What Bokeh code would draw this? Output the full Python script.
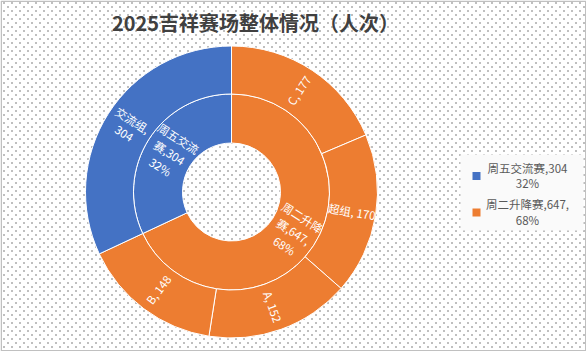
import math
import numpy as np
from bokeh.plotting import figure
from bokeh.models import Range1d, ColumnDataSource
from bokeh.core.properties import value
from bokeh.embed import file_html
from bokeh.resources import INLINE

# ---------------- data ----------------
title_text = "2025吉祥赛场整体情况（人次）"

inner_names = ["周二升降赛", "周五交流赛"]
inner_values = [647, 304]
inner_colors = ["#ED7D31", "#4472C4"]
inner_labels = ["周二升降\n赛,647,\n68%", "周五交流\n赛,304\n32%"]

outer_names = ["C", "超组", "A", "B", "交流组"]
outer_values = [177, 170, 152, 148, 304]
outer_colors = ["#ED7D31", "#ED7D31", "#ED7D31", "#ED7D31", "#4472C4"]
outer_labels = ["C, 177", "超组, 170", "A, 152", "B, 148", "交流组,\n304"]

legend_names = ["周五交流赛,304\n32%", "周二升降赛,647,\n68%"]
legend_colors = ["#4472C4", "#ED7D31"]

# ---------------- layout ----------------
W, H = 586, 351
CX, CY = 231, H - 191.5
R0, R1, R2 = 49, 98, 146
FONT = value("Noto Sans CJK SC")


def ring(values, r_in, r_out):
    total = float(sum(values))
    starts, ends, lx, ly, rot = [], [], [], [], []
    cum = 0.0
    rm = (r_in + r_out) / 2.0
    for v in values:
        a0 = 90.0 - cum / total * 360.0
        cum += v
        a1 = 90.0 - cum / total * 360.0
        starts.append(a0)
        ends.append(a1)
        mid = (a0 + a1) / 2.0
        lx.append(CX + rm * math.cos(math.radians(mid)))
        ly.append(CY + rm * math.sin(math.radians(mid)))
        m = ((mid + 180) % 360) - 180
        if m > 90:
            m -= 180
        elif m < -90:
            m += 180
        rot.append(m)
    return starts, ends, lx, ly, rot


p = figure(width=W, height=H, output_backend="svg", toolbar_location=None,
           x_range=Range1d(0, W), y_range=Range1d(0, H),
           min_border=0, x_axis_type=None, y_axis_type=None)
p.grid.visible = False
p.outline_line_color = None
p.background_fill_color = "white"
p.border_fill_color = "white"

# dotted background texture (decorative, one image)
img = np.full((H, W), 0xFFFFFFFF, dtype=np.uint32)
yy, xx = np.mgrid[0:H, 0:W]
ytop = H - 1 - yy
mask = ((xx % 8 == 3) & (ytop % 8 == 2)) | ((xx % 8 == 7) & (ytop % 8 == 6))
img[mask] = 0xFF000000
p.image_rgba(image=[img], x=0, y=0, dw=W, dh=H)

# rings
s, e, lx, ly, rot = ring(inner_values, R0, R1)
src_in = ColumnDataSource(dict(s=s, e=e, c=inner_colors, lx=lx, ly=ly, rot=rot, t=inner_labels))
p.annular_wedge(x=CX, y=CY, inner_radius=R0, outer_radius=R1, start_angle="s", end_angle="e",
                start_angle_units="deg", end_angle_units="deg", direction="clock",
                fill_color="c", line_color="white", line_width=1, source=src_in)

s2, e2, lx2, ly2, rot2 = ring(outer_values, R1, R2)
src_out = ColumnDataSource(dict(s=s2, e=e2, c=outer_colors, lx=lx2, ly=ly2, rot=rot2, t=outer_labels))
p.annular_wedge(x=CX, y=CY, inner_radius=R1, outer_radius=R2, start_angle="s", end_angle="e",
                start_angle_units="deg", end_angle_units="deg", direction="clock",
                fill_color="c", line_color="white", line_width=1, source=src_out)

p.text(x="lx", y="ly", text="t", angle="rot", angle_units="deg", source=src_in,
       text_font=FONT, text_font_size="11.5px", text_color="white",
       text_align="center", text_baseline="middle", text_line_height=1.05)
p.text(x="lx", y="ly", text="t", angle="rot", angle_units="deg", source=src_out,
       text_font=FONT, text_font_size="11.5px", text_color="white",
       text_align="center", text_baseline="middle", text_line_height=0.95)

# title
p.text(x=[255], y=[H - 22], text=[title_text], text_font=FONT, text_font_size="20px",
       text_font_style="bold", text_color="#404040", text_align="center", text_baseline="middle")

# legend
p.quad(left=[460], right=[583], bottom=[H - 230], top=[H - 154], fill_color="#fafafa", line_color=None)
p.scatter(x=[476, 476], y=[H - 175.5, H - 212], marker="square", size=8,
          fill_color=legend_colors, line_color=None)
p.text(x=[527, 527], y=[H - 175, H - 211.5], text=legend_names, text_font=FONT,
       text_font_size="11.5px", text_color="#595959", text_align="center",
       text_baseline="middle", text_line_height=0.95)

# border
p.quad(left=[0.75], right=[W - 0.75], bottom=[0.75], top=[H - 0.75], fill_color=None,
       line_color="#c0c0c0", line_width=1.5)

open("out.html", "w").write(file_html(p, INLINE))
